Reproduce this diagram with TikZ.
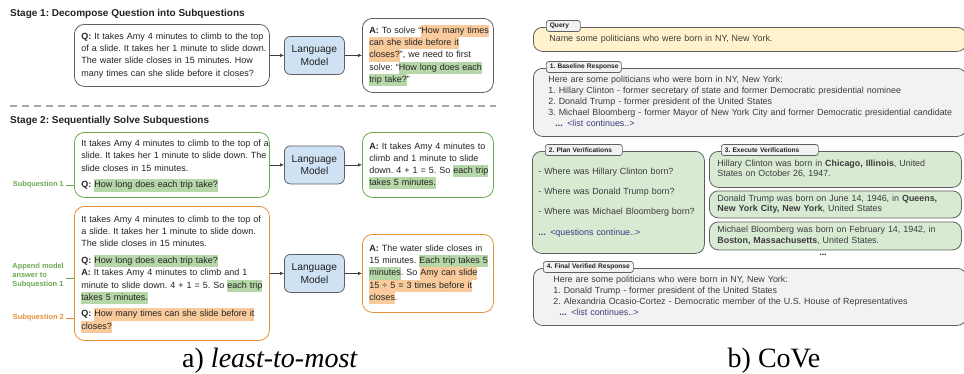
\documentclass[tikz,border=0pt]{standalone}
\usepackage{fontspec}
\setmainfont{Liberation Sans}
\newfontfamily\captionserif{Liberation Serif}
\usetikzlibrary{arrows.meta}
\frenchspacing

\definecolor{inkdark}{HTML}{222222}
\definecolor{inkgray}{HTML}{3C3C3C}
\definecolor{edgegray}{HTML}{5F5F5F}
\definecolor{lmblue}{HTML}{CFE2F3}
\definecolor{hlgreen}{HTML}{B6D7A8}
\definecolor{hlorange}{HTML}{F9CB9C}
\definecolor{subgreen}{HTML}{6AA84F}
\definecolor{suborange}{HTML}{E69138}
\definecolor{queryyellow}{HTML}{FFF2CC}
\definecolor{panelgray}{HTML}{F2F2F2}
\definecolor{panelgreen}{HTML}{D9EAD3}
\definecolor{linkblue}{HTML}{3B3B7E}
\definecolor{dashgray}{HTML}{A6A6A6}

\newcommand{\boxfont}{\fontsize{9}{12.2}\selectfont}
\newcommand{\modelfont}{\fontsize{10.2}{12.5}\selectfont}
\newcommand{\titlefont}{\fontsize{10}{12}\selectfont\bfseries}
\newcommand{\notefont}{\fontsize{7.4}{9}\selectfont\bfseries}
\newcommand{\panelfont}{\fontsize{8.9}{10.8}\selectfont}
\newcommand{\tabfont}{\fontsize{6.6}{8}\selectfont\bfseries}
\newcommand{\captionfont}{\captionserif\fontsize{28}{30}\selectfont}

\newcommand{\hlg}[1]{{\setlength{\fboxsep}{0pt}\colorbox{hlgreen}{\strut #1}}}
\newcommand{\hlo}[1]{{\setlength{\fboxsep}{0pt}\colorbox{hlorange}{\strut #1}}}
\newcommand{\boxlines}[1]{\begin{tabular}{@{}l@{}}#1\end{tabular}}
\newcommand{\contd}[1]{\textcolor{linkblue}{\textbf{...}\enspace #1}}

\tikzset{
  qbox/.style={draw=edgegray, rounded corners=10pt, line width=0.8pt, anchor=north west, align=left, inner xsep=7pt, inner ysep=0pt, font=\boxfont, text=inkdark},
  greenbox/.style={qbox, draw=subgreen},
  orangebox/.style={qbox, draw=suborange},
  lmbox/.style={draw=edgegray, fill=lmblue, rounded corners=6pt, line width=0.8pt, anchor=north west, align=center, minimum width=60pt, minimum height=38pt, font=\modelfont, text=inkdark},
  line/.style={-{Latex[length=4pt,width=3.5pt]}, draw=inkgray, line width=0.6pt},
  stagetitle/.style={anchor=west, font=\titlefont, text=inkdark, inner sep=0pt},
  sidenote/.style={anchor=east, align=left, font=\notefont, inner xsep=2pt, inner ysep=0pt},
  panel/.style={draw=edgegray, rounded corners=9pt, line width=0.8pt, anchor=north west, align=left, font=\panelfont, text=inkgray, inner ysep=0pt},
  tab/.style={draw=edgegray, fill=panelgray, rounded corners=2.5pt, line width=0.7pt, anchor=west, align=left, font=\tabfont, text=inkdark, inner xsep=3.5pt, inner ysep=0pt, minimum height=11pt},
  caption/.style={anchor=base, font=\captionfont, text=black},
}

\begin{document}
\begin{tikzpicture}[x=1pt,y=-1pt]
\useasboundingbox (0,0) rectangle (964,373);
\clip (0,0) rectangle (964,373);

% a) least-to-most
\node[stagetitle] (stage1) at (10,14) {Stage 1: Decompose Question into Subquestions};
\node[qbox, minimum width=195, minimum height=62, text width=181] (q1) at (74,24) {\boxlines{\textbf{Q:} It takes Amy 4 minutes to climb to the top\\ of a slide. It takes her 1 minute to slide down.\\ The water slide closes in 15 minutes. How\\ many times can she slide before it closes?}};
\node[lmbox] (lm1) at (284,36) {Language\\Model};
\node[qbox, minimum width=131, minimum height=74, text width=117] (a1) at (362,18) {\boxlines{\textbf{A:} To solve “\hlo{How many times}\\ \hlo{can she slide before it}\\ \hlo{closes?}”, we need to first\\ solve: “\hlg{How long does each}\\ \hlg{trip take?}”}};
\draw[line] (q1) -- (lm1);
\draw[line] (lm1) -- (a1);

\draw[dashgray, line width=1.6pt, dash pattern=on 7pt off 5pt] (10,106) -- (496,106);

\node[stagetitle] (stage2) at (10,121) {Stage 2: Sequentially Solve Subquestions};
\node[greenbox, minimum width=195, minimum height=65, text width=181] (g1) at (74,132) {\boxlines{It takes Amy 4 minutes to climb to the top of a\\ slide. It takes her 1 minute to slide down. The\\ slide closes in 15 minutes.\\[4.5pt] \textbf{Q:} \hlg{How long does each trip take?}}};
\node[lmbox] (lm2) at (284,145.5) {Language\\Model};
\node[greenbox, minimum width=131, minimum height=65, text width=117] (a2) at (362,132) {\boxlines{\textbf{A:} It takes Amy 4 minutes to\\ climb and 1 minute to slide\\ down. 4 + 1 = 5. So \hlg{each trip}\\ \hlg{takes 5 minutes.}}};
\draw[line] (g1) -- (lm2);
\draw[line] (lm2) -- (a2);

\node[orangebox, minimum width=195, minimum height=134, text width=181] (o1) at (74,206) {\boxlines{It takes Amy 4 minutes to climb to the top of\\ a slide. It takes her 1 minute to slide down.\\ The slide closes in 15 minutes.\\[4.5pt] \textbf{Q:} \hlg{How long does each trip take?}\\ \textbf{A:} It takes Amy 4 minutes to climb and 1\\ minute to slide down. 4 + 1 = 5. So \hlg{each trip}\\ \hlg{takes 5 minutes.}\\[4.5pt] \textbf{Q:} \hlo{How many times can she slide before it}\\ \hlo{closes?}}};
\node[lmbox] (lm3) at (284,254) {Language\\Model};
\node[orangebox, minimum width=131, minimum height=78, text width=117] (a3) at (362,234) {\boxlines{\textbf{A:} The water slide closes in\\ 15 minutes. \hlg{Each trip takes 5}\\ \hlg{minutes}. So \hlo{Amy can slide}\\ \hlo{15 ÷ 5 = 3 times before it}\\ \hlo{closes}.}};
\draw[line] (o1) -- (lm3);
\draw[line] (lm3) -- (a3);

% notes on the left
\node[sidenote, text=subgreen] (sub1) at (66,185) {Subquestion 1};
\draw[subgreen, line width=0.8pt] (sub1.east) -- (sub1.east -| g1.west);
\node[sidenote, text=subgreen] (append) at (66,276) {Append model\\answer to\\Subquestion 1};
\draw[subgreen, line width=0.8pt] ([yshift=-2pt]append.east) -- ([yshift=-2pt]append.east -| o1.west);
\node[sidenote, text=suborange] (sub2) at (66,318) {Subquestion 2};
\draw[suborange, line width=0.8pt] (sub2.east) -- (sub2.east -| o1.west);

% b) CoVe
\node[panel, fill=queryyellow, minimum width=433, minimum height=24, text width=401, inner xsep=16pt] (query) at (533,27) {Name some politicians who were born in NY, New York.};
\node[tab, text width=27] (querytab) at (546,26) {\mbox{Query}};

\node[panel, fill=panelgray, minimum width=433, minimum height=68, text width=403, inner xsep=15pt] (baseline) at (533,68) {\boxlines{Here are some politicians who were born in NY, New York:\\ 1. Hillary Clinton - former secretary of state and former Democratic presidential nominee\\ 2. Donald Trump - former president of the United States\\ 3. Michael Bloomberg - former Mayor of New York City and former Democratic presidential candidate\\ \hspace{7pt}\contd{<list continues..>}}};
\node[tab, text width=68] (baselinetab) at (546,67) {\mbox{1. Baseline Response}};

\node[panel, fill=panelgreen, minimum width=172, minimum height=102, text width=160, inner xsep=6pt] (plan) at (532,151) {\boxlines{- Where was Hillary Clinton born?\\[9.5pt] - Where was Donald Trump born?\\[9.5pt] - Where was Michael Bloomberg born?\\[9.5pt] \contd{<questions continue..>}}};
\node[tab, text width=70] (plantab) at (545,150) {\mbox{2. Plan Verifications}};

\node[panel, fill=panelgreen, minimum width=252, minimum height=36, text width=236, inner xsep=8pt] (exec1) at (709,151) {\boxlines{Hillary Clinton was born in \textbf{Chicago, Illinois}, United\\ States on October 26, 1947.}};
\node[tab, text width=90] (exectab) at (721,150) {\mbox{3. Execute Verifications}};
\node[panel, fill=panelgreen, minimum width=252, minimum height=27, text width=236, inner xsep=8pt] (exec2) at (709,190.5) {\boxlines{Donald Trump was born on June 14, 1946, in \textbf{Queens,}\\ \textbf{New York City, New York}, United States}};
\node[panel, fill=panelgreen, minimum width=252, minimum height=28, text width=236, inner xsep=8pt] (exec3) at (709,221.5) {\boxlines{Michael Bloomberg was born on February 14, 1942, in\\ \textbf{Boston, Massachusetts}, United States.}};
\node[font=\panelfont\bfseries, text=inkdark, inner sep=0pt] (moredots) at (823,255) {...};

\node[panel, fill=panelgray, minimum width=433, minimum height=57, text width=393, inner xsep=20pt] (final) at (533,268) {\boxlines{Here are some politicians who were born in NY, New York:\\ 1. Donald Trump - former president of the United States\\ 2. Alexandria Ocasio-Cortez - Democratic member of the U.S. House of Representatives\\ \hspace{6pt}\contd{<list continues..>}}};
\node[tab, text width=83] (finaltab) at (543,267) {\mbox{4. Final Verified Response}};

% captions
\node[caption] (capa) at (270,367) {a) \textit{least-to-most}};
\node[caption] (capb) at (774,367) {b) CoVe};
\end{tikzpicture}
\end{document}
